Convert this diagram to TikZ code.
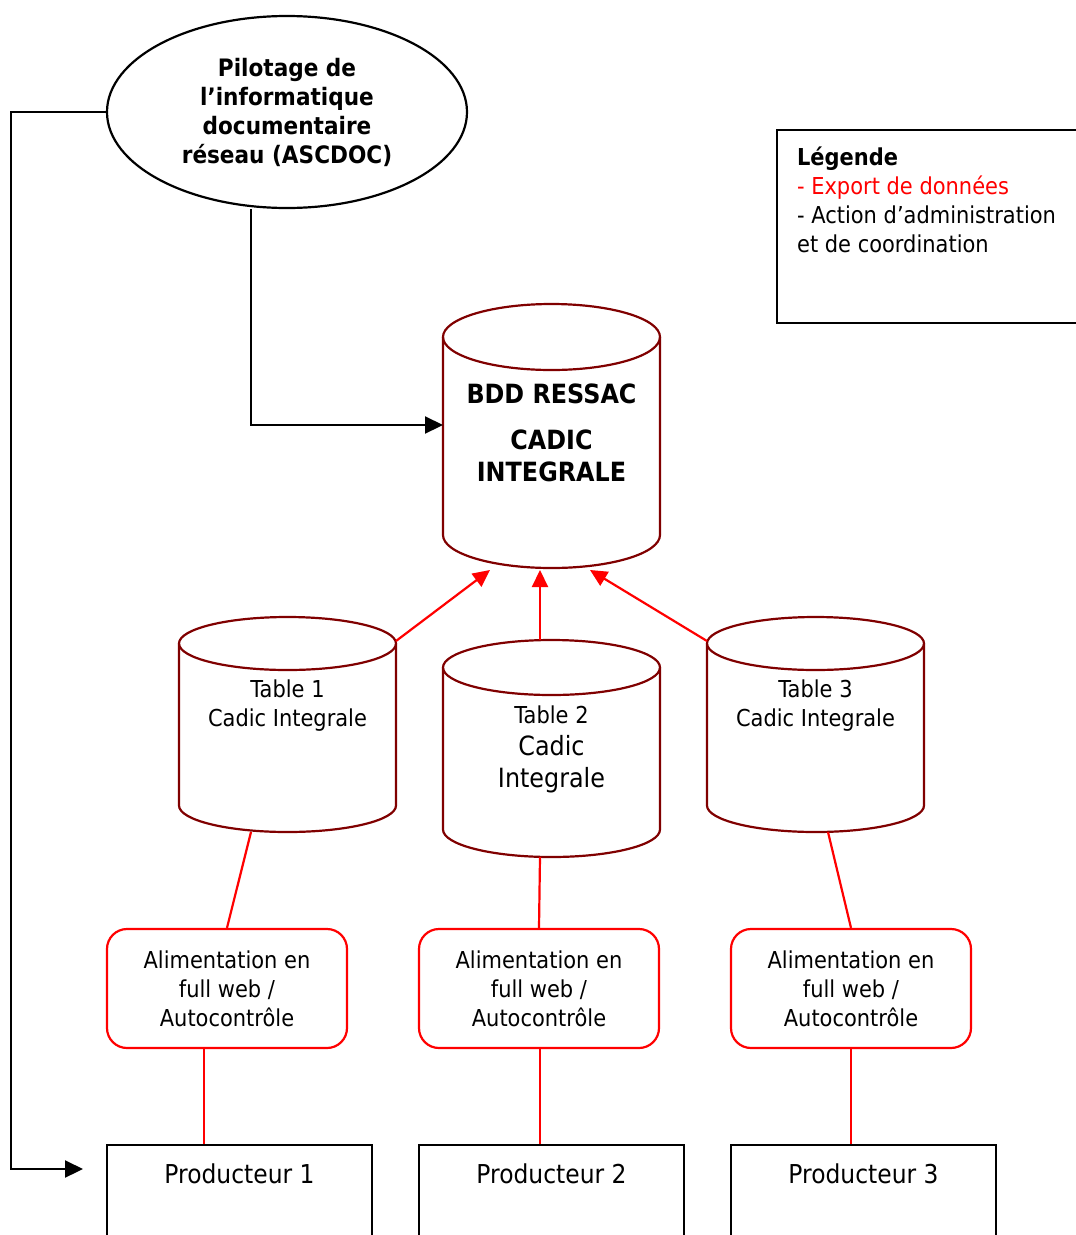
\documentclass[tikz,border=0pt]{standalone}
\usepackage{fontspec}
\setmainfont{DejaVu Sans}[FakeStretch=0.9]
\usetikzlibrary{arrows.meta,shapes.geometric}
\definecolor{cylred}{HTML}{800000}
\definecolor{linkred}{HTML}{FF0000}
\newcommand\cylinderdraw[5]{%
  \pgfmathsetmacro\crx{(#2-#1)/2}%
  \pgfmathsetmacro\ccx{(#2+#1)/2}%
  \pgfmathsetmacro\cyt{#3+#5}%
  \pgfmathsetmacro\cyb{#4-#5}%
  \draw[cylline,fill=white] (#1,\cyt) -- (#1,\cyb) arc[start angle=180,end angle=360,x radius=\crx pt,y radius=#5 pt] -- (#2,\cyt);
  \draw[cylline] (\ccx,\cyt) ellipse [x radius=\crx pt,y radius=#5 pt];
}
\begin{document}
\begin{tikzpicture}[x=1pt,y=-1pt,
  cylline/.style={draw=cylred,line width=2.2pt},
  datalink/.style={draw=linkred,line width=2.2pt},
  dataarrow/.style={datalink,-{Triangle[length=17pt,width=16pt]}},
  adminlink/.style={draw=black,line width=2.2pt},
  adminarrow/.style={adminlink,-{Triangle[length=18pt,width=17pt]}},
  normaltext/.style={font=\fontsize{23.3}{29}\selectfont,align=center},
  feedbox/.style={draw=linkred,line width=2.2pt,rounded corners=20pt,minimum width=240pt,minimum height=119pt,inner sep=0pt,normaltext},
  prodbox/.style={draw,line width=2.2pt,anchor=north,minimum width=265pt,text height=28pt,text depth=130pt,inner ysep=10pt,font=\fontsize{26}{32}\selectfont}]
\useasboundingbox (0,0) rectangle (1076,1235);
\clip (0,0) rectangle (1076,1235);

% Pilotage ellipse
\node[ellipse,draw,line width=2.2pt,minimum width=360pt,minimum height=192pt,inner sep=0pt,
      font=\bfseries\fontsize{24}{29}\selectfont,align=center] (pil) at (287,112)
  {Pilotage de\\l’informatique\\documentaire\\réseau (ASCDOC)};

% Legend
\node[draw,line width=2.2pt,anchor=north west,inner xsep=20pt,inner ysep=14.7pt,
      font=\fontsize{23.3}{29}\selectfont] (leg) at (776,129)
  {\parbox[c][163.6pt][t]{280pt}{\raggedright\strut\textbf{Légende}\\
   \textcolor{linkred}{- Export de données}\\
   - Action d’administration\\
   et de coordination}};

% Cylinders
\cylinderdraw{443}{660}{304}{568}{33}
\node[font=\bfseries\fontsize{26.5}{32}\selectfont,align=center] (bdd) at (551.5,433)
  {BDD RESSAC\\[14pt]CADIC\\INTEGRALE};
\coordinate (bdd-w) at (443,425);
\coordinate (bdd-in1) at (490,570);
\coordinate (bdd-in2) at (540,570);
\coordinate (bdd-in3) at (590,570);

\cylinderdraw{179}{396}{617}{832}{26.5}
\node[normaltext] (t1) at (287.5,706) {Table 1\\Cadic Integrale};
\coordinate (t1-tr) at (396,641);
\coordinate (t1-b) at (251,832);

\cylinderdraw{443}{660}{640}{857}{27.5}
\node[font=\fontsize{26.5}{32}\selectfont,align=center] (t2) at (551.5,749)
  {{\fontsize{23.3}{29}\selectfont Table 2}\\Cadic\\Integrale};
\coordinate (t2-t) at (540,640);
\coordinate (t2-b) at (540,857);

\cylinderdraw{707}{924}{617}{832}{26.5}
\node[normaltext] (t3) at (815.5,706) {Table 3\\Cadic Integrale};
\coordinate (t3-tl) at (707,641);
\coordinate (t3-b) at (828,832);

% Feed boxes
\node[feedbox] (a1) at (227,988.5) {Alimentation en\\full web /\\Autocontrôle};
\node[feedbox] (a2) at (539,988.5) {Alimentation en\\full web /\\Autocontrôle};
\node[feedbox] (a3) at (851,988.5) {Alimentation en\\full web /\\Autocontrôle};

% Producers
\node[prodbox] (p1) at (239.5,1144) {Producteur 1};
\node[prodbox] (p2) at (551.5,1144) {Producteur 2};
\node[prodbox] (p3) at (863.5,1144) {Producteur 3};
\coordinate (p1-in) at (83,1169);

% Admin connectors
\draw[adminarrow] (pil.west) -- ++(-95,0) |- (p1-in);
\draw[adminarrow] ([xshift=-36pt]pil.south) |- (bdd-w);

% Data connectors
\draw[dataarrow] (t1-tr) -- (bdd-in1);
\draw[dataarrow] (t2-t) -- (bdd-in2);
\draw[dataarrow] (t3-tl) -- (bdd-in3);
\draw[datalink] (t1-b) -- (a1.north);
\draw[datalink] (t2-b) -- (a2.north);
\draw[datalink] (t3-b) -- (a3.north);
\draw[datalink] ([xshift=-23pt]a1.south) -- ([xshift=-23pt]a1.south |- p1.north);
\draw[datalink] ([xshift=1pt]a2.south) -- ([xshift=1pt]a2.south |- p2.north);
\draw[datalink] (a3.south) -- (a3.south |- p3.north);
\end{tikzpicture}
\end{document}
